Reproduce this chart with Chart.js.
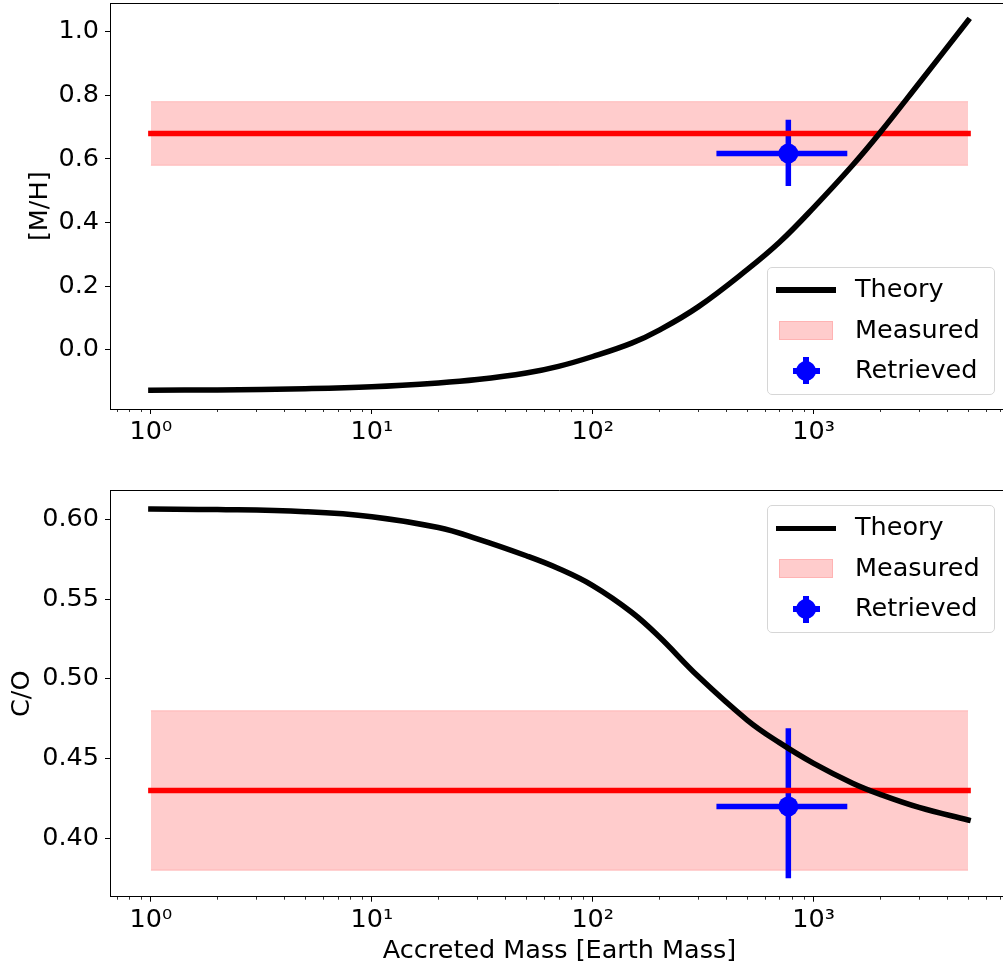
<!DOCTYPE html>
<html>
<head>
<meta charset="utf-8">
<script src="https://cdn.jsdelivr.net/npm/chart.js@4.4.0/dist/chart.umd.min.js"></script>
<style>
  html, body { margin: 0; padding: 0; background: #fff; overflow: hidden; width: 1003px; height: 973px; }
  .box { position: absolute; left: 0; width: 1015px; }
  #topBox { top: 0; height: 460px; }
  #botBox { top: 460px; height: 513px; }
  .legend { position: absolute; left: 767px; width: 228px; height: 128px; border: 1px solid #d6d6d6; border-radius: 5px;
            background: rgba(255,255,255,0.8); font-family: "DejaVu Sans"; font-size: 25.5px; color: #000; box-sizing: border-box; }
  .legend .txt { position: absolute; left: 87px; height: 30px; line-height: 30px; white-space: nowrap; }
  .legend .ln { position: absolute; left: 8px; width: 60px; height: 5.5px; background: #000; }
  .legend .patch { position: absolute; left: 11px; width: 54px; height: 19px; background: #ffcccc; border: 1px solid #ffb3b3; box-sizing: border-box; }
  .legend .dot { position: absolute; left: 28px; width: 20px; height: 20px; border-radius: 50%; background: #0000ff; }
  .legend .bh { position: absolute; left: 24.5px; width: 27px; height: 6px; background: #0000ff; }
  .legend .bv { position: absolute; left: 35px; width: 6px; height: 27px; background: #0000ff; }
</style>
</head>
<body>
<div class="box" id="topBox"><canvas id="topChart"></canvas></div>
<div class="box" id="botBox"><canvas id="botChart"></canvas></div>

<div class="legend" style="top:266.7px">
  <div class="ln" style="top:19.5px"></div><div class="txt" style="top:5px">Theory</div>
  <div class="patch" style="top:53px"></div><div class="txt" style="top:46px">Measured</div>
  <div class="dot" style="top:93px"></div><div class="bh" style="top:100px"></div><div class="bv" style="top:89.5px"></div>
  <div class="txt" style="top:86px">Retrieved</div>
</div>
<div class="legend" style="top:505px">
  <div class="ln" style="top:19.5px"></div><div class="txt" style="top:5px">Theory</div>
  <div class="patch" style="top:53px"></div><div class="txt" style="top:46px">Measured</div>
  <div class="dot" style="top:93px"></div><div class="bh" style="top:100px"></div><div class="bv" style="top:89.5px"></div>
  <div class="txt" style="top:86px">Retrieved</div>
</div>

<script>
// accreted mass sample points (Earth masses)
const massX = [1, 2, 5, 10, 20, 30, 50, 70, 100, 150, 200, 300, 500, 700, 1000, 1500, 2000, 3000, 5000];
// theory curves
const mhTheory = [-0.127, -0.126, -0.122, -0.116, -0.104, -0.0935, -0.073, -0.052, -0.021, 0.021, 0.062, 0.135, 0.252, 0.338, 0.447, 0.580, 0.683, 0.838, 1.035];
const coTheory = [0.6065, 0.6062, 0.6048, 0.6017, 0.5949, 0.5878, 0.5772, 0.5692, 0.5585, 0.5418, 0.5264, 0.5016, 0.4742, 0.4600, 0.4470, 0.4346, 0.4276, 0.4194, 0.4115];

// measured band
const measuredX = [1, 5000];
const mhMeasured = [0.68, 0.58, 0.78];   // value, low, high
const coMeasured = [0.43, 0.38, 0.48];

// retrieved point with error bars
const retrievedX = [768, 363, 1420];     // value, low, high
const mhRetrieved = [0.617, 0.515, 0.723];
const coRetrieved = [0.42, 0.375, 0.469];

// ticks
const xMajor = [1, 10, 100, 1000];
const xMajorLabels = ['10⁰', '10¹', '10²', '10³'];
const mhTicks = [0.0, 0.2, 0.4, 0.6, 0.8, 1.0];
const coTicks = [0.40, 0.45, 0.50, 0.55, 0.60];

const X_MIN = 0.653, X_MAX = 7660;
const FONT = { family: 'DejaVu Sans', size: 25.5 };
const BLUE = '#0000ff';

const xMinor = [];
[0.1, 1, 10, 100, 1000].forEach(d => {
  for (let m = 2; m <= 9; m++) {
    const v = m * d;
    if (v > X_MIN && v < X_MAX) xMinor.push(v);
  }
});

Chart.defaults.color = '#000';
Chart.defaults.font.family = 'DejaVu Sans';

const pts = (xs, ys) => xs.map((x, i) => ({ x: x, y: ys[i] }));

const frame = {
  id: 'frame',
  afterDraw(chart) {
    const { ctx, chartArea: a, scales: { x } } = chart;
    ctx.save();
    ctx.strokeStyle = '#000';
    ctx.lineWidth = 1;
    ctx.beginPath();
    const top = Math.floor(a.top) + 0.5;
    ctx.moveTo(a.left, top);
    ctx.lineTo(a.right, top);
    ctx.stroke();
    ctx.lineWidth = 0.8;
    ctx.beginPath();
    xMinor.forEach(v => {
      const px = Math.round(x.getPixelForValue(v)) + 0.5;
      ctx.moveTo(px, a.bottom);
      ctx.lineTo(px, a.bottom + 3);
    });
    ctx.stroke();
    ctx.restore();
  }
};

function makeChart(id, theory, measured, retrieved, yMin, yMax, yTicks, digits, yTitle, yTitlePad, padTop, xHeight, xTitle) {
  const datasets = [
    { label: 'Theory', data: pts(massX, theory), showLine: true, borderColor: '#000', borderWidth: 5.5, borderCapStyle: 'square', tension: 0.4, pointRadius: 0, order: 0 },
    { label: 'Measured', data: pts(measuredX, [measured[0], measured[0]]), showLine: true, borderColor: '#ff0000', borderWidth: 5.5, borderCapStyle: 'square', pointRadius: 0, order: 1 },
    { label: 'Retrieved', data: [{ x: retrievedX[0], y: retrieved[0] }], pointRadius: 10, pointBackgroundColor: BLUE, pointBorderWidth: 0, showLine: false, order: 2 },
    { label: 'xerr', data: [{ x: retrievedX[1], y: retrieved[0] }, { x: retrievedX[2], y: retrieved[0] }], showLine: true, borderColor: BLUE, borderWidth: 5.5, pointRadius: 0, order: 3 },
    { label: 'yerr', data: [{ x: retrievedX[0], y: retrieved[1] }, { x: retrievedX[0], y: retrieved[2] }], showLine: true, borderColor: BLUE, borderWidth: 5.5, pointRadius: 0, order: 3 },
    { label: 'band low', data: pts(measuredX, [measured[1], measured[1]]), showLine: true, borderColor: 'rgba(255,0,0,0.2)', borderWidth: 1, pointRadius: 0, fill: false, order: 4 },
    { label: 'band high', data: pts(measuredX, [measured[2], measured[2]]), showLine: true, borderColor: 'rgba(255,0,0,0.2)', borderWidth: 1, pointRadius: 0, fill: '-1', backgroundColor: 'rgba(255,0,0,0.2)', order: 5 }
  ];

  return new Chart(document.getElementById(id), {
    type: 'scatter',
    data: { datasets: datasets },
    options: {
      responsive: true,
      maintainAspectRatio: false,
      animation: false,
      events: [],
      layout: { autoPadding: false, padding: { top: padTop, right: 6, left: 0, bottom: 0 } },
      plugins: { legend: { display: false }, tooltip: { enabled: false } },
      scales: {
        x: {
          type: 'logarithmic',
          min: X_MIN,
          max: X_MAX,
          afterBuildTicks: s => {
            s.ticks = xMajor.concat(xMinor).sort((a, b) => a - b).map(v => ({ value: v, major: xMajor.includes(v) }));
          },
          afterFit: s => { s.height = xHeight; s.paddingLeft = 0; s.paddingRight = 0; },
          ticks: {
            autoSkip: false, maxRotation: 0, minRotation: 0, padding: 3, font: FONT, color: '#000',
            callback: v => { const i = xMajor.indexOf(v); return i >= 0 ? xMajorLabels[i] : ''; }
          },
          grid: {
            display: true, drawOnChartArea: false, drawTicks: true, tickLength: 5, tickWidth: 1,
            tickColor: c => (c.tick && xMajor.includes(c.tick.value)) ? '#000' : 'rgba(0,0,0,0)'
          },
          border: { display: true, color: '#000', width: 1 },
          title: xTitle ? { display: true, text: xTitle, font: FONT, color: '#000', padding: { top: 0, bottom: 6 } } : { display: false }
        },
        y: {
          type: 'linear',
          min: yMin,
          max: yMax,
          afterBuildTicks: s => { s.ticks = yTicks.map(v => ({ value: v })); },
          afterFit: s => { s.width = 110; s.paddingTop = 0; s.paddingBottom = 0; },
          ticks: { padding: 6, font: FONT, color: '#000', callback: v => Number(v).toFixed(digits) },
          grid: { display: true, drawOnChartArea: false, drawTicks: true, tickLength: 5, tickWidth: 1, tickColor: '#000' },
          border: { display: true, color: '#000', width: 1 },
          title: { display: true, text: yTitle, font: FONT, color: '#000', padding: { top: yTitlePad, bottom: 0 } }
        }
      }
    },
    plugins: [frame]
  });
}

makeChart('topChart', mhTheory, mhMeasured, mhRetrieved, -0.186, 1.0885, mhTicks, 1, '[M/H]', 24.7, 3.5, 51, null);
makeChart('botChart', coTheory, coMeasured, coRetrieved, 0.3634, 0.618, coTicks, 2, 'C/O', 6.7, 30.7, 76.3, 'Accreted Mass [Earth Mass]');
</script>
</body>
</html>
